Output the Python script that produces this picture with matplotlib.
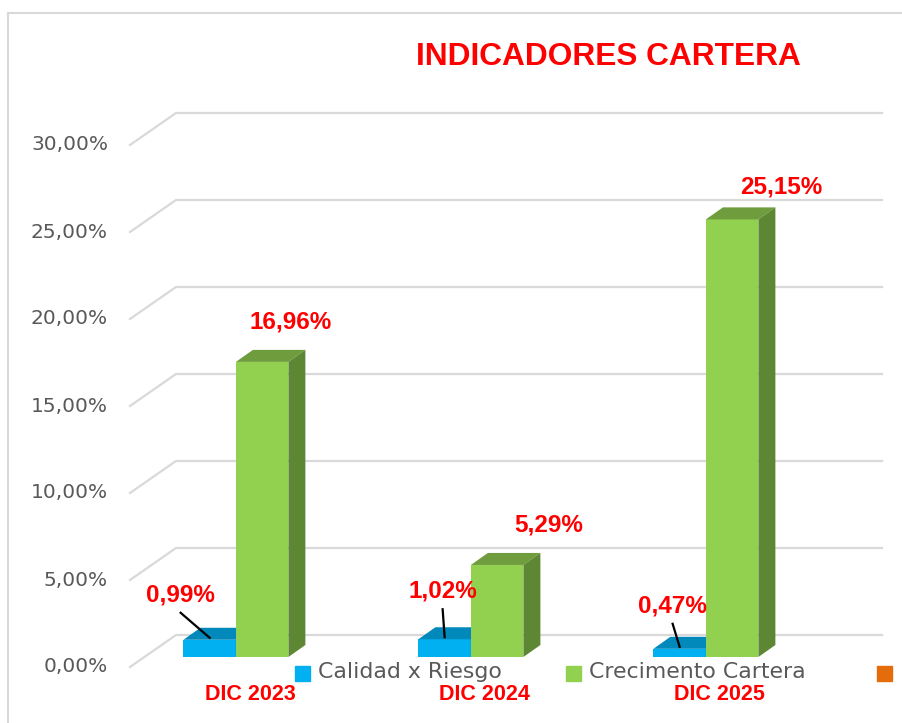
import matplotlib
matplotlib.use('Agg')
import matplotlib.pyplot as plt
from matplotlib.patches import Rectangle
from matplotlib.lines import Line2D
from matplotlib.transforms import offset_copy

# datos del grafico
periodos = ['DIC 2023', 'DIC 2024', 'DIC 2025']
calidad_riesgo = [0.99, 1.02, 0.47]
crecimiento_cartera = [16.96, 5.29, 25.15]
series = ['Calidad x Riesgo', 'Crecimento Cartera', '']
ticks = [0, 5, 10, 15, 20, 25, 30]

ROJO = '#FF0000'
GRIS = '#595959'
REJILLA = '#D9D9D9'
AZUL = ('#00B0F0', '#0089BA', '#007FAD')      # frente, tapa, lado
VERDE = ('#92D050', '#6F9C3C', '#5E8733')
NARANJA = '#E46C0A'

W, H = 902, 723
fig = plt.figure(figsize=(W / 100, H / 100), dpi=100)
ax = fig.add_axes([130 / W, 56 / H, 752 / W, 522 / H])
ax.set_xlim(-0.391, 2.809)
ax.set_ylim(0, 30)
ax.axis('off')


def fmt(v):
    return '{:.2f}'.format(v).replace('.', ',') + '%'


def off(x, y, dx, dy):
    # desplaza un punto de datos unos pixeles (profundidad 3D)
    p = ax.transData.transform((x, y))
    return ax.transData.inverted().transform((p[0] + dx, p[1] + dy))


x0, x1 = ax.get_xlim()

# rejilla: diagonal del suelo/pared + linea en la pared del fondo
for t in ticks:
    a = (x0, t)
    b = off(x0, t, 46, 32)
    c = off(x1, t, 0, 32)
    ax.plot([a[0], b[0], c[0]], [a[1], b[1], c[1]], color=REJILLA, lw=1.6,
            zorder=1, clip_on=False, solid_joinstyle='miter')
    ax.text(*off(x0, t, -22, 0), fmt(t), ha='right', va='center',
            fontsize=14.5, color=GRIS, family='DejaVu Sans')

FX, FY = 14, 10    # cara frontal de las barras
DX, DY = 17, 12    # profundidad de las barras
ancho = 0.2234
front = offset_copy(ax.transData, fig=fig, x=FX, y=FY, units='dots')


def barra(xc, h, colores, z):
    xl, xr = xc - ancho / 2, xc + ancho / 2
    ax.bar(xc, h, ancho, color=colores[0], transform=front, zorder=z,
           linewidth=0)
    p = [off(xl, h, FX, FY), off(xr, h, FX, FY),
         off(xr, h, FX + DX, FY + DY), off(xl, h, FX + DX, FY + DY)]
    ax.fill([q[0] for q in p], [q[1] for q in p], color=colores[1],
            zorder=z, lw=0)
    s = [off(xr, 0, FX, FY), off(xr, h, FX, FY),
         off(xr, h, FX + DX, FY + DY), off(xr, 0, FX + DX, FY + DY)]
    ax.fill([q[0] for q in s], [q[1] for q in s], color=colores[2],
            zorder=z, lw=0)


# desplazamientos (pixeles) de las etiquetas respecto a la tapa de la barra
etq_verde = [(28, 40), (52, 40), (49, 32)]
etq_azul = [(-29, 45), (-2, 48), (-7, 43)]

for i, (a, v) in enumerate(zip(calidad_riesgo, crecimiento_cartera)):
    xb = i - ancho / 2
    xg = i + ancho / 2
    barra(xb, a, AZUL, 2 + 2 * i)
    barra(xg, v, VERDE, 3 + 2 * i)

    ax.text(*off(xg, v, FX + etq_verde[i][0], FY + etq_verde[i][1]), fmt(v),
            ha='center', va='center', fontsize=17.5, fontweight='bold',
            color=ROJO, family='Liberation Sans', zorder=10)

    lx, ly = etq_azul[i]
    ax.text(*off(xb, a, FX + lx, FY + ly), fmt(a), ha='center', va='center',
            fontsize=17.5, fontweight='bold', color=ROJO,
            family='Liberation Sans', zorder=10)
    p0 = off(xb, a, FX + lx, FY + ly - 18)
    p1 = off(xb, a, FX, FY + 2)
    ax.plot([p0[0], p1[0]], [p0[1], p1[1]], color='black', lw=1.6, zorder=11)

    ax.text(*off(i, 0, 28, -27), periodos[i], ha='center', va='center',
            fontsize=15.5, fontweight='bold', color=ROJO,
            family='Liberation Sans')

# titulo
fig.text(608 / W, 1 - 57 / H, 'INDICADORES CARTERA', ha='center', va='center',
         fontsize=22.8, fontweight='bold', color=ROJO, family='Liberation Sans')

# leyenda
for col, lab, xs in zip([AZUL[0], VERDE[0], NARANJA], series, [295, 566, 877]):
    fig.patches.append(Rectangle((xs / W, 1 - 681 / H), 15 / W, 15 / H,
                                 transform=fig.transFigure, color=col,
                                 zorder=12))
    if lab:
        fig.text((xs + 23) / W, 1 - 672 / H, lab, ha='left', va='center',
                 fontsize=15.8, color=GRIS, family='DejaVu Sans', zorder=12)

# marco exterior
fig.add_artist(Line2D([8 / W, 8 / W], [0, 1 - 13 / H], color=REJILLA, lw=1.5))
fig.add_artist(Line2D([8 / W, 1], [1 - 13 / H, 1 - 13 / H], color=REJILLA,
                      lw=1.5))

fig.savefig('out.png', dpi=100)
